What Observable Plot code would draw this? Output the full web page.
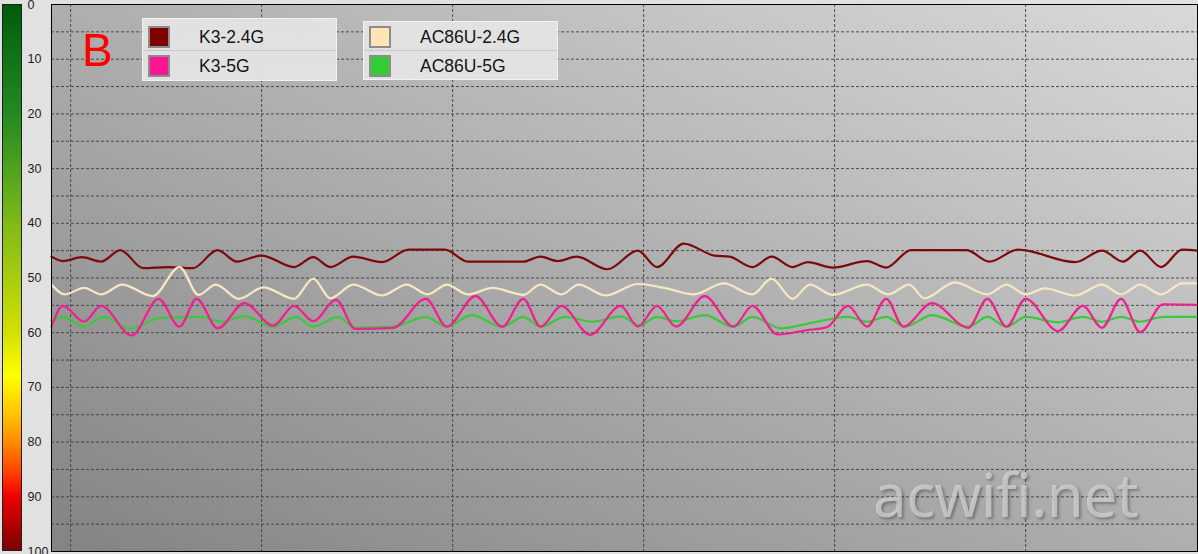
<!DOCTYPE html>
<html>
<head>
<meta charset="utf-8">
<script src="https://cdn.jsdelivr.net/npm/d3@7"></script>
<script src="https://cdn.jsdelivr.net/npm/@observablehq/plot@0.6"></script>
<style>
  html, body { margin: 0; padding: 0; background: #e1e1e1; }
  #wrap { position: relative; width: 1198px; height: 554px; overflow: hidden; font-family: "Liberation Sans", Arial, sans-serif; }
  #wrap svg { position: absolute; left: 0; top: 0; }
  .lg { position: absolute; background: rgba(228,228,228,0.95); border: 1px solid #f2f2f2; box-sizing: border-box; }
  .row { position: absolute; left: 0; right: 0; }
  .sep { position: absolute; left: 0; right: 0; height: 0; border-top: 1px solid #c8c8c8; }
  .sw { position: absolute; left: 5px; width: 18px; height: 18px; border: 2px solid #8c8c8c; box-sizing: content-box; }
  .lt { position: absolute; left: 56px; font-size: 17.5px; color: #151515; line-height: 22px; }
  #B { position: absolute; left: 82px; top: 22px; font-size: 46px; color: #ff0000; font-family: "Liberation Sans", Arial, sans-serif; line-height: 56px; }
  #wm { position: absolute; left: 873px; top: 453px; font-size: 60px; font-family: "Noto Sans", "Open Sans", sans-serif; color: rgba(212,212,212,0.75); text-shadow: 2px 2px 3px rgba(0,0,0,0.3); letter-spacing: -0.5px; }
</style>
</head>
<body>
<div id="wrap"></div>
<script>
// ---- data (time in seconds, signal value; 0 = best at top) ----
const seriesNames = ["K3-2.4G", "K3-5G", "AC86U-2.4G", "AC86U-5G"];
const seriesColors = ["#7d0a0a", "#f0208e", "#f7e8c4", "#3cc83c"];
const legendColors = ["#800000", "#ff1493", "#ffe4b5", "#32cd32"];

const k3_24_t = [0,0.6,1.6,2.6,3.6,4.8,6.1,7.4,8.7,9.7,11.0,12.7,13.7,14.6,15.8,17.3,18.7,20.6,21.8,24.7,25.6,26.5,27.5,29.1,30.7,31.7,33.1,34.7,35.5,36.7,37.7,38.8,39.6,40.9,42.7,43.7,45.0,47.9,49.1,50.6,53.6,55.0,56.1,57.0,58.1,59.2,60];
const k3_24_v = [46.1,46.9,46.2,47.0,44.9,48.2,48.0,48.2,44.9,47.0,45.9,48.0,46.2,48.0,46.1,47.1,44.8,44.8,47.0,47.0,46.1,46.9,46.1,48.4,45.0,48.0,43.7,45.9,46.1,48.0,46.1,48.0,47.1,48.1,46.9,48.1,44.9,44.9,47.0,44.8,47.1,45.0,47.0,45.0,48.0,44.8,45.0];

const k3_5_t = [0,0.6,1.7,2.6,4.2,5.6,6.7,7.6,8.7,10.1,11.6,12.7,13.7,14.9,15.9,17.9,19.6,20.7,22.2,23.6,24.7,25.6,26.7,28.2,29.8,30.7,31.7,32.7,34.2,35.7,36.7,38.0,39.6,40.6,41.7,42.7,43.7,44.6,46.1,48.0,49.0,50.0,51.0,52.7,54.0,55.0,56.0,57.0,58.2,60];
const k3_5_v = [58.9,55.1,58.0,55.1,60.5,53.8,58.9,53.8,59.2,54.6,58.7,55.1,57.9,54.0,59.3,59.1,53.8,58.9,53.3,58.9,53.8,58.9,55.1,60.4,55.1,58.9,55.1,58.9,53.3,58.9,55.1,60.3,59.5,59.0,55.1,58.9,53.8,58.9,54.6,59.1,53.8,58.9,53.8,59.7,55.1,59.1,53.8,59.9,54.8,54.9];

const ac_24_t = [0,0.7,1.7,2.6,3.7,5.3,6.7,7.7,8.6,9.8,11.1,12.7,13.7,14.6,15.8,17.3,18.6,19.7,20.7,21.8,23.1,24.7,25.6,26.7,27.6,29.0,30.7,32.2,33.6,35.2,36.7,37.7,38.8,39.7,40.9,42.7,43.8,44.9,45.7,47.3,49.0,50.0,51.0,52.0,53.6,55.0,56.0,57.0,58.1,59.2,60];
const ac_24_v = [51.2,53.0,51.8,53.0,51.2,53.3,48.0,53.1,51.2,53.8,51.7,53.8,50.1,53.7,51.2,53.2,51.2,53.0,51.2,53.0,51.8,53.1,51.2,53.0,51.2,53.2,51.1,51.9,53.0,51.0,53.0,50.1,53.8,51.2,53.1,51.2,53.0,51.2,53.7,50.8,53.0,51.2,53.0,51.9,53.2,51.2,53.0,51.2,53.0,51.0,51.0];

const ac_5_t = [0,0.6,1.7,2.7,4.1,5.7,7.8,8.9,10.1,11.6,12.8,13.7,15.0,15.9,17.9,19.6,20.7,22.0,23.6,24.7,25.6,26.9,28.3,29.8,30.8,31.7,32.7,34.2,35.7,36.7,38.2,39.9,41.7,42.7,43.7,44.7,46.1,48.0,49.0,50.0,51.0,52.7,54.0,55.0,56.0,57.0,58.2,60];
const ac_5_v = [57.7,57.1,58.9,57.1,59.3,57.3,57.1,58.0,57.0,58.9,57.1,58.9,57.1,59.1,58.9,57.1,58.9,56.8,58.9,57.1,58.9,57.1,58.0,57.0,58.7,57.1,57.9,56.8,58.9,57.1,59.2,58.1,57.1,58.0,57.1,58.9,56.8,58.9,57.1,58.9,57.1,58.1,57.1,58.0,57.1,58.0,57.1,57.1];

const yTickLabels = [0,10,20,30,40,50,60,70,80,90,100];
const yGridLines = d3.range(0, 101, 5);
const xGridLines = [1, 11, 21, 31, 41, 51];
const watermark = "acwifi.net";
const panelLabel = "B";

// ---- build tables ----
const toRows = (ts, vs) => ts.map((t, i) => ({t, v: vs[i]}));
const tables = [
  toRows(k3_24_t, k3_24_v),
  toRows(k3_5_t, k3_5_v),
  toRows(ac_24_t, ac_24_v),
  toRows(ac_5_t, ac_5_v)
];

const barStops = [
  [0, "#005c0c"], [0.2, "#238a22"], [0.3, "#4ea21e"], [0.4, "#7fba16"], [0.5, "#a8cc10"],
  [0.6, "#d2e004"], [0.68, "#ffff00"], [0.75, "#ffc400"], [0.8, "#ff8c00"], [0.86, "#ff3c00"],
  [0.9, "#f00000"], [1, "#7a0000"]
];

function defsMark() {
  const defs = d3.create("svg:defs");
  const bg = defs.append("linearGradient").attr("id", "bgGrad")
    .attr("x1", 0).attr("y1", 1).attr("x2", 1).attr("y2", 0);
  bg.append("stop").attr("offset", 0).attr("stop-color", "#838383");
  bg.append("stop").attr("offset", 1).attr("stop-color", "#d9d9d9");
  const bar = defs.append("linearGradient").attr("id", "barGrad")
    .attr("x1", 0).attr("y1", 0).attr("x2", 0).attr("y2", 1);
  for (const [o, c] of barStops) bar.append("stop").attr("offset", o).attr("stop-color", c);
  return defs.node();
}

function colorBar(index, scales) {
  const y0 = scales.y(0), y1 = scales.y(100);
  const g = d3.create("svg:g");
  g.append("rect").attr("x", 2.5).attr("y", y0 + 0.5).attr("width", 19).attr("height", y1 - y0 - 1)
    .attr("fill", "url(#barGrad)").attr("stroke", "#202020").attr("stroke-width", 1);
  return g.node();
}

const order = [0, 3, 2, 1];
const plot = Plot.plot({
  width: 1198,
  height: 554,
  marginLeft: 51,
  marginRight: 1,
  marginTop: 4,
  marginBottom: 3,
  style: {background: "transparent", fontFamily: "'Liberation Sans', Arial, sans-serif", fontSize: "12.5px"},
  x: {domain: [0, 60], axis: null},
  y: {domain: [0, 100], reverse: true, axis: null},
  marks: [
    defsMark,
    Plot.frame({fill: "url(#bgGrad)"}),
    colorBar,
    Plot.gridY(yGridLines, {stroke: "#3a3a3a", strokeOpacity: 0.85, strokeDasharray: "3,2", strokeWidth: 1}),
    Plot.gridX(xGridLines, {stroke: "#3a3a3a", strokeOpacity: 0.85, strokeDasharray: "3,2", strokeWidth: 1}),
    Plot.axisY(yTickLabels, {anchor: "left", tickSize: 0, tickPadding: 24, textAnchor: "start", fontSize: 12.5, fill: "#1e1e1e", label: null}),
    ...order.map(i => Plot.line(tables[i], {x: "t", y: "v", stroke: seriesColors[i], strokeWidth: 2.2, curve: "monotone-x"})),
    Plot.frame({stroke: "#000", strokeWidth: 1})
  ]
});

const wrap = document.getElementById("wrap");
wrap.appendChild(plot);

// legend boxes
const boxes = [
  {left: 142, top: 18, width: 195, height: 63, items: [0, 1]},
  {left: 363, top: 21, width: 195, height: 59, items: [2, 3]}
];
for (const b of boxes) {
  const box = document.createElement("div");
  box.className = "lg";
  Object.assign(box.style, {left: b.left + "px", top: b.top + "px", width: b.width + "px", height: b.height + "px"});
  const sep = document.createElement("div");
  sep.className = "sep";
  sep.style.top = (49 - b.top) + "px";
  box.appendChild(sep);
  b.items.forEach((idx, k) => {
    const swTop = 25 + k * 28.5 - b.top;
    const sw = document.createElement("div");
    sw.className = "sw";
    sw.style.top = swTop + "px";
    sw.style.background = legendColors[idx];
    const lt = document.createElement("div");
    lt.className = "lt";
    lt.style.top = swTop + "px";
    lt.textContent = seriesNames[idx];
    box.appendChild(sw);
    box.appendChild(lt);
  });
  wrap.appendChild(box);
}

const B = document.createElement("div");
B.id = "B";
B.textContent = panelLabel;
wrap.appendChild(B);

const wm = document.createElement("div");
wm.id = "wm";
wm.textContent = watermark;
wrap.appendChild(wm);
</script>
</body>
</html>
